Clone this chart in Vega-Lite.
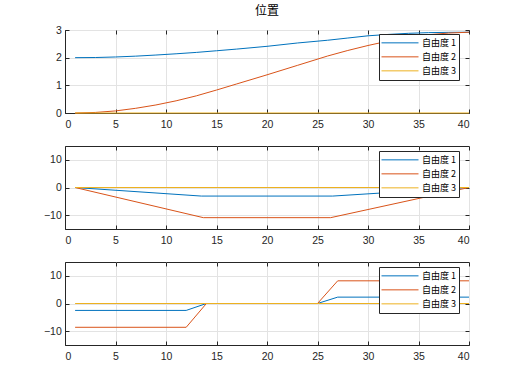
{
  "$schema": "https://vega.github.io/schema/vega-lite/v6.json",
  "padding": {"left": 42, "top": 4, "right": 5, "bottom": 5},
  "spacing": 33,
  "bounds": "flush",
  "datasets": {
    "pos": [
      {"t": 1, "v": 2.0, "j": "自由度 1"}, {"t": 3, "v": 2.005, "j": "自由度 1"}, {"t": 5, "v": 2.025, "j": "自由度 1"}, {"t": 7, "v": 2.055, "j": "自由度 1"}, {"t": 9, "v": 2.095, "j": "自由度 1"}, {"t": 11, "v": 2.14, "j": "自由度 1"}, {"t": 13, "v": 2.19, "j": "自由度 1"}, {"t": 15, "v": 2.25, "j": "自由度 1"}, {"t": 17, "v": 2.31, "j": "自由度 1"}, {"t": 20, "v": 2.41, "j": "自由度 1"}, {"t": 23, "v": 2.53, "j": "自由度 1"}, {"t": 26, "v": 2.63, "j": "自由度 1"}, {"t": 28, "v": 2.71, "j": "自由度 1"}, {"t": 30, "v": 2.79, "j": "自由度 1"}, {"t": 32, "v": 2.84, "j": "自由度 1"}, {"t": 34, "v": 2.88, "j": "自由度 1"}, {"t": 36, "v": 2.905, "j": "自由度 1"}, {"t": 38, "v": 2.915, "j": "自由度 1"}, {"t": 40, "v": 2.92, "j": "自由度 1"},
      {"t": 1, "v": 0.0, "j": "自由度 2"}, {"t": 3, "v": 0.02, "j": "自由度 2"}, {"t": 5, "v": 0.075, "j": "自由度 2"}, {"t": 7, "v": 0.17, "j": "自由度 2"}, {"t": 9, "v": 0.29, "j": "自由度 2"}, {"t": 11, "v": 0.44, "j": "自由度 2"}, {"t": 13, "v": 0.62, "j": "自由度 2"}, {"t": 15, "v": 0.83, "j": "自由度 2"}, {"t": 17, "v": 1.05, "j": "自由度 2"}, {"t": 20, "v": 1.38, "j": "自由度 2"}, {"t": 23, "v": 1.72, "j": "自由度 2"}, {"t": 26, "v": 2.06, "j": "自由度 2"}, {"t": 28, "v": 2.26, "j": "自由度 2"}, {"t": 30, "v": 2.44, "j": "自由度 2"}, {"t": 32, "v": 2.6, "j": "自由度 2"}, {"t": 34, "v": 2.73, "j": "自由度 2"}, {"t": 36, "v": 2.83, "j": "自由度 2"}, {"t": 38, "v": 2.89, "j": "自由度 2"}, {"t": 40, "v": 2.92, "j": "自由度 2"},
      {"t": 1, "v": 0.0, "j": "自由度 3"}, {"t": 40, "v": 0.0, "j": "自由度 3"}
    ],
    "vel": [
      {"t": 1, "v": 0, "j": "自由度 1"}, {"t": 13.5, "v": -3.1, "j": "自由度 1"}, {"t": 26.5, "v": -3.1, "j": "自由度 1"}, {"t": 40, "v": 0, "j": "自由度 1"},
      {"t": 1, "v": 0, "j": "自由度 2"}, {"t": 13.7, "v": -10.9, "j": "自由度 2"}, {"t": 26.3, "v": -10.9, "j": "自由度 2"}, {"t": 40, "v": 0, "j": "自由度 2"},
      {"t": 1, "v": 0, "j": "自由度 3"}, {"t": 40, "v": 0, "j": "自由度 3"}
    ],
    "acc": [
      {"t": 1, "v": -2.5, "j": "自由度 1"}, {"t": 12, "v": -2.5, "j": "自由度 1"}, {"t": 14, "v": 0, "j": "自由度 1"}, {"t": 25, "v": 0, "j": "自由度 1"}, {"t": 27, "v": 2.3, "j": "自由度 1"}, {"t": 40, "v": 2.3, "j": "自由度 1"},
      {"t": 1, "v": -8.6, "j": "自由度 2"}, {"t": 12, "v": -8.6, "j": "自由度 2"}, {"t": 14, "v": 0, "j": "自由度 2"}, {"t": 25, "v": 0, "j": "自由度 2"}, {"t": 27, "v": 8.2, "j": "自由度 2"}, {"t": 40, "v": 8.2, "j": "自由度 2"},
      {"t": 1, "v": 0, "j": "自由度 3"}, {"t": 40, "v": 0, "j": "自由度 3"}
    ]
  },
  "resolve": {"scale": {"color": "independent"}, "legend": {"color": "independent"}},
  "vconcat": [
    {
      "width": 404, "height": 83,
      "title": "位置",
      "data": {"name": "pos"},
      "layer": [
        {
          "mark": {"type": "line", "strokeWidth": 1},
          "encoding": {
            "x": {"field": "t", "type": "quantitative", "scale": {"domain": [0, 40], "nice": false}, "axis": {"values": [0, 5, 10, 15, 20, 25, 30, 35, 40], "title": null}},
            "y": {"field": "v", "type": "quantitative", "scale": {"domain": [0, 3], "nice": false}, "axis": {"values": [0, 1, 2, 3], "title": null}},
            "color": {"field": "j", "type": "nominal", "scale": {"domain": ["自由度 1", "自由度 2", "自由度 3"], "range": ["#0072BD", "#D95319", "#EDB120"]}, "legend": {"title": null, "orient": "none", "legendX": 314, "legendY": 4}}
          }
        },
        {
          "mark": {"type": "line", "opacity": 0},
          "encoding": {
            "x": {"field": "t", "type": "quantitative", "axis": {"orient": "top", "values": [0, 5, 10, 15, 20, 25, 30, 35, 40], "labels": false, "grid": false, "domain": false, "title": null}},
            "y": {"field": "v", "type": "quantitative", "axis": {"orient": "right", "values": [0, 1, 2, 3], "labels": false, "grid": false, "domain": false, "title": null}},
            "detail": {"field": "j"}
          }
        }
      ],
      "resolve": {"axis": {"x": "independent", "y": "independent"}}
    },
    {
      "width": 404, "height": 83,
      "data": {"name": "vel"},
      "layer": [
        {
          "mark": {"type": "line", "strokeWidth": 1},
          "encoding": {
            "x": {"field": "t", "type": "quantitative", "scale": {"domain": [0, 40], "nice": false}, "axis": {"values": [0, 5, 10, 15, 20, 25, 30, 35, 40], "title": null}},
            "y": {"field": "v", "type": "quantitative", "scale": {"domain": [-15, 15], "nice": false}, "axis": {"values": [-10, 0, 10], "title": null}},
            "color": {"field": "j", "type": "nominal", "scale": {"domain": ["自由度 1", "自由度 2", "自由度 3"], "range": ["#0072BD", "#D95319", "#EDB120"]}, "legend": {"title": null, "orient": "none", "legendX": 314, "legendY": 5}}
          }
        },
        {
          "mark": {"type": "line", "opacity": 0},
          "encoding": {
            "x": {"field": "t", "type": "quantitative", "axis": {"orient": "top", "values": [0, 5, 10, 15, 20, 25, 30, 35, 40], "labels": false, "grid": false, "domain": false, "title": null}},
            "y": {"field": "v", "type": "quantitative", "axis": {"orient": "right", "values": [-10, 0, 10], "labels": false, "grid": false, "domain": false, "title": null}},
            "detail": {"field": "j"}
          }
        }
      ],
      "resolve": {"axis": {"x": "independent", "y": "independent"}}
    },
    {
      "width": 404, "height": 83,
      "data": {"name": "acc"},
      "layer": [
        {
          "mark": {"type": "line", "strokeWidth": 1},
          "encoding": {
            "x": {"field": "t", "type": "quantitative", "scale": {"domain": [0, 40], "nice": false}, "axis": {"values": [0, 5, 10, 15, 20, 25, 30, 35, 40], "title": null}},
            "y": {"field": "v", "type": "quantitative", "scale": {"domain": [-15, 15], "nice": false}, "axis": {"values": [-10, 0, 10], "title": null}},
            "color": {"field": "j", "type": "nominal", "scale": {"domain": ["自由度 1", "自由度 2", "自由度 3"], "range": ["#0072BD", "#D95319", "#EDB120"]}, "legend": {"title": null, "orient": "none", "legendX": 314, "legendY": 5}}
          }
        },
        {
          "mark": {"type": "line", "opacity": 0},
          "encoding": {
            "x": {"field": "t", "type": "quantitative", "axis": {"orient": "top", "values": [0, 5, 10, 15, 20, 25, 30, 35, 40], "labels": false, "grid": false, "domain": false, "title": null}},
            "y": {"field": "v", "type": "quantitative", "axis": {"orient": "right", "values": [-10, 0, 10], "labels": false, "grid": false, "domain": false, "title": null}},
            "detail": {"field": "j"}
          }
        }
      ],
      "resolve": {"axis": {"x": "independent", "y": "independent"}}
    }
  ],
  "config": {
    "view": {"stroke": "#262626", "strokeWidth": 1},
    "font": "Liberation Sans",
    "axis": {
      "labelFont": "Liberation Sans", "labelFontSize": 10.5, "labelColor": "#262626",
      "domainColor": "#262626", "domainWidth": 1, "tickColor": "#262626", "tickWidth": 1,
      "tickSize": -4, "gridColor": "#e3e3e3", "gridOpacity": 1, "gridWidth": 1
    },
    "axisX": {"labelPadding": 10},
    "axisY": {"labelPadding": 7.7},
    "legend": {
      "labelFont": "Noto Sans CJK SC", "labelFontSize": 9, "labelColor": "#000000",
      "symbolType": "stroke", "symbolSize": 1369, "symbolStrokeWidth": 1,
      "clipHeight": 13.7, "rowPadding": 0, "padding": 2, "labelOffset": 3,
      "strokeColor": "#262626", "fillColor": "#ffffff", "cornerRadius": 0
    },
    "title": {"font": "Noto Sans CJK SC", "fontSize": 12, "fontWeight": "normal", "color": "#000000", "offset": 7}
  }
}
